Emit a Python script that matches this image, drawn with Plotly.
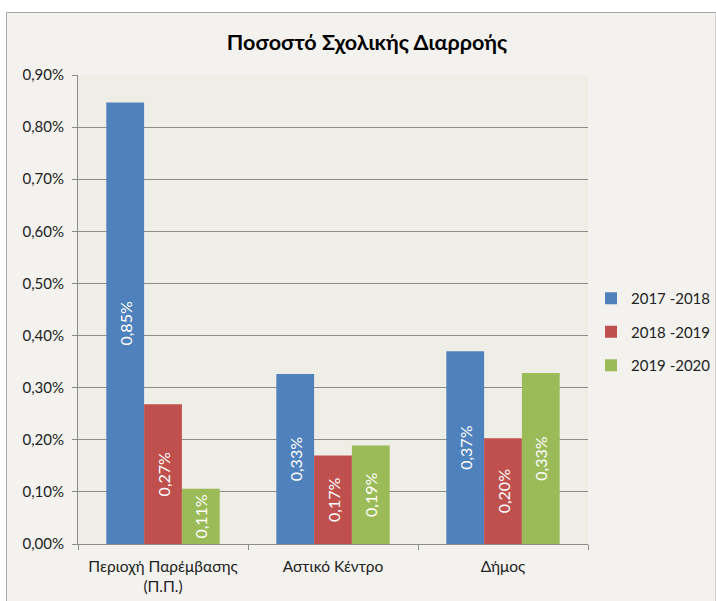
import plotly.graph_objects as go

categories = ["Περιοχή Παρέμβασης<br>(Π.Π.)", "Αστικό Κέντρο", "Δήμος"]
series_names = ["2017 -2018", "2018 -2019", "2019 -2020"]
values_2017_2018 = [0.00847, 0.00326, 0.00370]
values_2018_2019 = [0.00268, 0.00170, 0.00203]
values_2019_2020 = [0.00106, 0.00189, 0.00328]
colors = ["#4F81BD", "#C0504D", "#9BBB59"]
y_ticks = [0.0, 0.001, 0.002, 0.003, 0.004, 0.005, 0.006, 0.007, 0.008, 0.009]

FONT = "Lato, 'Open Sans', sans-serif"

fig = go.Figure()
for name, vals, col in zip(series_names, [values_2017_2018, values_2018_2019, values_2019_2020], colors):
    fig.add_trace(go.Bar(
        x=categories, y=vals, name=name, marker=dict(color=col, line=dict(width=0)),
        texttemplate="%{y:.2%}", textposition="inside", textangle=-90,
        insidetextanchor="middle", insidetextfont=dict(color="white", size=16, family=FONT),
        legendgroup=name, hoverinfo="skip",
    ))

GRID = "#8C8C8C"
L, R, T, B = 78, 588, 75, 544
fig.update_layout(
    width=716, height=601,
    margin=dict(l=L, r=716 - R, t=T, b=601 - B, autoexpand=False),
    paper_bgcolor="#F3F2EE",
    plot_bgcolor="#EEEDE6",
    separators=",.",
    barmode="group", bargap=0.333, bargroupgap=0,
    font=dict(family=FONT, size=15, color="#222222"),
    title=dict(text="<b>Ποσοστό Σχολικής Διαρροής</b>", x=367 / 716, xref="container", xanchor="center",
               y=1 - 42 / 601, yref="container", yanchor="middle", font=dict(size=21.5, color="#000000", family=FONT)),
    legend=dict(x=(591 - L) / (R - L), xanchor="left", y=(B - 332) / (B - T), yanchor="middle",
                bgcolor="rgba(0,0,0,0)", font=dict(size=15, family=FONT, color="#222222"),
                tracegroupgap=11, traceorder="grouped", itemwidth=30),
    showlegend=True,
    xaxis=dict(showgrid=False, showline=True, linecolor=GRID, linewidth=1, ticks="outside",
               tickson="boundaries", ticklen=5, tickcolor=GRID, tickfont=dict(size=15.5, color="#222222"),
               ticklabelstandoff=8),
    yaxis=dict(range=[0, 0.009], tickvals=y_ticks, tickformat=".2%", showgrid=True, gridcolor=GRID,
               gridwidth=1, showline=True, linecolor=GRID, linewidth=1, ticks="outside", ticklen=5,
               tickcolor=GRID, zeroline=False, tickfont=dict(size=15, color="#222222"), ticklabelstandoff=5),
)

def px_to_paper_x(px):
    return (px - L) / (R - L)

def px_to_paper_y(py):
    return (B - py) / (B - T)

fig.add_shape(type="rect", xref="paper", yref="paper",
              x0=px_to_paper_x(0), x1=px_to_paper_x(716), y0=px_to_paper_y(0), y1=px_to_paper_y(12),
              fillcolor="white", line=dict(width=0), layer="above")
fig.add_shape(type="rect", xref="paper", yref="paper",
              x0=px_to_paper_x(0), x1=px_to_paper_x(6), y0=px_to_paper_y(601), y1=px_to_paper_y(0),
              fillcolor="white", line=dict(width=0), layer="above")
fig.add_shape(type="rect", xref="paper", yref="paper",
              x0=px_to_paper_x(6.5), x1=px_to_paper_x(716), y0=px_to_paper_y(602), y1=px_to_paper_y(12.5),
              fillcolor="rgba(0,0,0,0)", line=dict(width=1, color="#A6A6A6"), layer="above")

fig.write_html("out.html", config={"displayModeBar": False},
               post_script="document.body.style.margin='0';document.body.style.overflow='hidden';")
